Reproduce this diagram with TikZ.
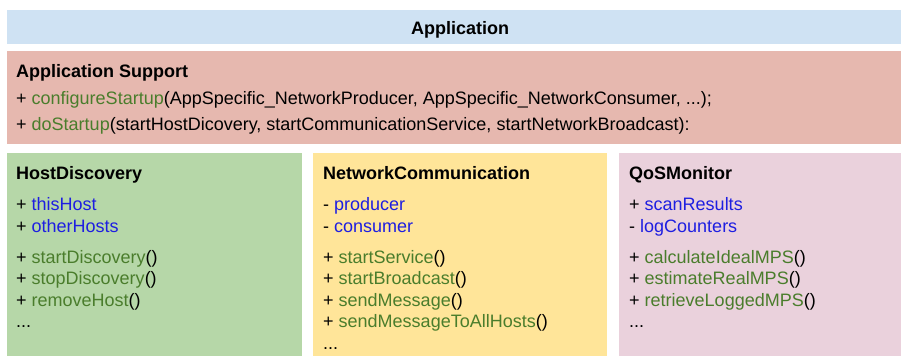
\documentclass[tikz,border=0pt]{standalone}
\usepackage{fontspec}
\setmainfont{Liberation Sans}
\definecolor{appblue}{RGB}{207,226,243}
\definecolor{supred}{RGB}{230,184,175}
\definecolor{hdgreen}{RGB}{182,215,168}
\definecolor{ncyellow}{RGB}{255,229,153}
\definecolor{qospink}{RGB}{234,209,220}
\definecolor{methgreen}{RGB}{74,125,44}
\definecolor{attrblue}{RGB}{30,30,225}
\newcommand{\methname}[1]{\textcolor{methgreen}{#1}}
\newcommand{\attrname}[1]{\textcolor{attrblue}{#1}}
\begin{document}
\begin{tikzpicture}[x=1pt,y=-1pt,
  box/.style={inner sep=0pt,outer sep=0pt,anchor=north west,draw=none},
  txt/.style={anchor=base west,inner sep=0pt,font=\fontsize{18}{22}\selectfont},
  ttl/.style={txt,font=\fontsize{18}{22}\selectfont\bfseries}]
\useasboundingbox (0,0) rectangle (901,356);
% boxes
\node[box,fill=appblue,minimum width=894pt,minimum height=34pt] (app) at (7,10) {};
\node[box,fill=supred,minimum width=894pt,minimum height=93pt] (sup) at (7,51) {};
\node[box,fill=hdgreen,minimum width=295pt,minimum height=203pt] (hd) at (7,153) {};
\node[box,fill=ncyellow,minimum width=294pt,minimum height=203pt] (nc) at (313,153) {};
\node[box,fill=qospink,minimum width=282pt,minimum height=203pt] (qos) at (619,153) {};
% application
\node[ttl,anchor=base] (apptitle) at (460,34) {Application};
% application support
\node[ttl] (suptitle) at (16,77) {Application Support};
\node[txt] (sup1) at (16,104) {+ \methname{configureStartup}(AppSpecific\_NetworkProducer, AppSpecific\_NetworkConsumer, ...);};
\node[txt] (sup2) at (16,130) {+ \methname{doStartup}(startHostDicovery, startCommunicationService, startNetworkBroadcast):};
% host discovery
\node[ttl] (hdtitle) at (16,179) {HostDiscovery};
\node[txt] (hda1) at (16,210) {+ \attrname{thisHost}};
\node[txt] (hda2) at (16,232) {+ \attrname{otherHosts}};
\node[txt] (hdm1) at (16,263) {+ \methname{startDiscovery}()};
\node[txt] (hdm2) at (16,284.5) {+ \methname{stopDiscovery}()};
\node[txt] (hdm3) at (16,306) {+ \methname{removeHost}()};
\node[txt] (hdm4) at (16,327) {...};
% network communication
\node[ttl] (nctitle) at (323,179) {NetworkCommunication};
\node[txt] (nca1) at (323,210) {- \attrname{producer}};
\node[txt] (nca2) at (323,232) {- \attrname{consumer}};
\node[txt] (ncm1) at (323,263) {+ \methname{startService}()};
\node[txt] (ncm2) at (323,284.5) {+ \methname{startBroadcast}()};
\node[txt] (ncm3) at (323,306) {+ \methname{sendMessage}()};
\node[txt] (ncm4) at (323,327) {+ \methname{sendMessageToAllHosts}()};
\node[txt] (ncm5) at (323,349) {...};
% qos monitor
\node[ttl] (qostitle) at (629,179) {QoSMonitor};
\node[txt] (qosa1) at (629,210) {+ \attrname{scanResults}};
\node[txt] (qosa2) at (629,232) {- \attrname{logCounters}};
\node[txt] (qosm1) at (629,263) {+ \methname{calculateIdealMPS}()};
\node[txt] (qosm2) at (629,284.5) {+ \methname{estimateRealMPS}()};
\node[txt] (qosm3) at (629,306) {+ \methname{retrieveLoggedMPS}()};
\node[txt] (qosm4) at (629,327) {...};
\end{tikzpicture}
\end{document}
